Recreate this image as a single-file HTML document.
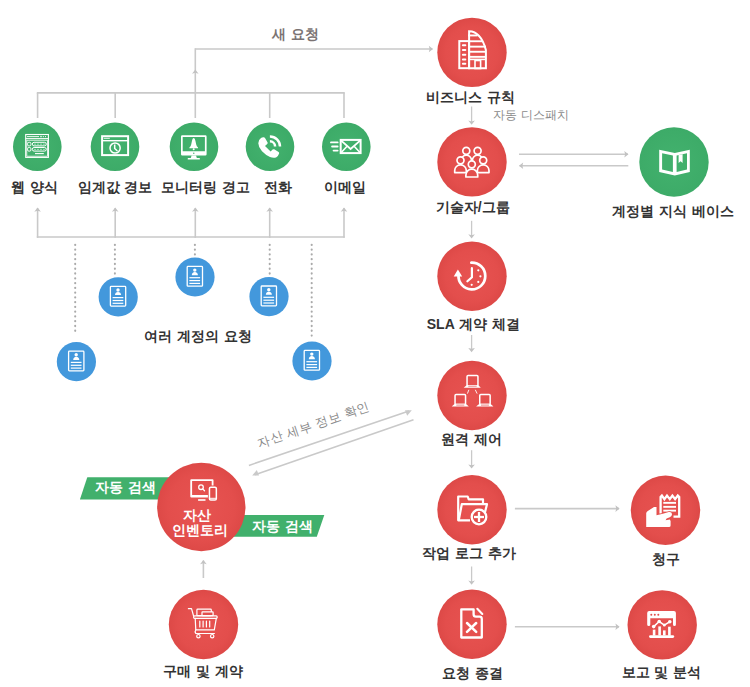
<!DOCTYPE html>
<html><head><meta charset="utf-8"><style>
html,body{margin:0;padding:0;background:#fff;}
body{width:750px;height:687px;position:relative;overflow:hidden;font-family:"Liberation Sans",sans-serif;}
svg{position:absolute;left:0;top:0;}
.t{position:absolute;width:300px;text-align:center;white-space:nowrap;line-height:1.2;word-spacing:1px;}
</style></head><body>
<svg width="750" height="687" viewBox="0 0 750 687">
<defs><radialGradient id="rg" cx="50%" cy="50%" r="50%"><stop offset="0" stop-color="#e75351"/><stop offset="0.75" stop-color="#e34e4c"/><stop offset="1" stop-color="#dd4947"/></radialGradient><radialGradient id="gg" cx="50%" cy="50%" r="50%"><stop offset="0" stop-color="#43b26e"/><stop offset="1" stop-color="#3dab68"/></radialGradient></defs>
<line x1="195.3" y1="49" x2="432.4" y2="49" stroke="#c9c9c9" stroke-width="1.6"/>
<polygon points="433,49 428.8,45.7 429.64,49 428.8,52.3" fill="#c2c2c2"/>
<line x1="195.3" y1="48.2" x2="195.3" y2="93.5" stroke="#c9c9c9" stroke-width="1.6"/>
<polygon points="195.3,69.5 192.0,73.7 195.3,72.86 198.60000000000002,73.7" fill="#c2c2c2"/>
<line x1="36.8" y1="92.9" x2="344.8" y2="92.9" stroke="#c9c9c9" stroke-width="1.6"/>
<line x1="37.6" y1="92.9" x2="37.6" y2="118" stroke="#c9c9c9" stroke-width="1.6"/>
<line x1="115.2" y1="92.9" x2="115.2" y2="118" stroke="#c9c9c9" stroke-width="1.6"/>
<line x1="195.3" y1="92.9" x2="195.3" y2="118" stroke="#c9c9c9" stroke-width="1.6"/>
<line x1="269.7" y1="92.9" x2="269.7" y2="118" stroke="#c9c9c9" stroke-width="1.6"/>
<line x1="344" y1="92.9" x2="344" y2="118" stroke="#c9c9c9" stroke-width="1.6"/>
<line x1="36.8" y1="237" x2="344.8" y2="237" stroke="#c9c9c9" stroke-width="1.6"/>
<line x1="37.6" y1="208.2" x2="37.6" y2="237.8" stroke="#c9c9c9" stroke-width="1.6"/>
<polygon points="37.6,207.5 34.300000000000004,211.7 37.6,210.86 40.9,211.7" fill="#c2c2c2"/>
<line x1="115.2" y1="208.2" x2="115.2" y2="237.8" stroke="#c9c9c9" stroke-width="1.6"/>
<polygon points="115.2,207.5 111.9,211.7 115.2,210.86 118.5,211.7" fill="#c2c2c2"/>
<line x1="195.3" y1="208.2" x2="195.3" y2="237.8" stroke="#c9c9c9" stroke-width="1.6"/>
<polygon points="195.3,207.5 192.0,211.7 195.3,210.86 198.60000000000002,211.7" fill="#c2c2c2"/>
<line x1="269.7" y1="208.2" x2="269.7" y2="237.8" stroke="#c9c9c9" stroke-width="1.6"/>
<polygon points="269.7,207.5 266.4,211.7 269.7,210.86 273.0,211.7" fill="#c2c2c2"/>
<line x1="344" y1="208.2" x2="344" y2="237.8" stroke="#c9c9c9" stroke-width="1.6"/>
<polygon points="344,207.5 340.7,211.7 344,210.86 347.3,211.7" fill="#c2c2c2"/>
<line x1="75.2" y1="244.8" x2="75.2" y2="335" stroke="#aaaaaa" stroke-width="2.1" stroke-linecap="round" stroke-dasharray="0.2 4.57"/>
<line x1="114.9" y1="244.8" x2="114.9" y2="274" stroke="#aaaaaa" stroke-width="2.1" stroke-linecap="round" stroke-dasharray="0.2 4.57"/>
<line x1="194.9" y1="244.8" x2="194.9" y2="255" stroke="#aaaaaa" stroke-width="2.1" stroke-linecap="round" stroke-dasharray="0.2 4.57"/>
<line x1="269.7" y1="244.8" x2="269.7" y2="274.4" stroke="#aaaaaa" stroke-width="2.1" stroke-linecap="round" stroke-dasharray="0.2 4.57"/>
<line x1="311.7" y1="244.8" x2="311.7" y2="335.6" stroke="#aaaaaa" stroke-width="2.1" stroke-linecap="round" stroke-dasharray="0.2 4.57"/>
<circle cx="37.3" cy="146.7" r="24.3" fill="url(#gg)"/>
<circle cx="115" cy="146.7" r="24.3" fill="url(#gg)"/>
<circle cx="194" cy="146.7" r="24.3" fill="url(#gg)"/>
<circle cx="270" cy="146.7" r="24.3" fill="url(#gg)"/>
<circle cx="346.3" cy="146.7" r="24.3" fill="url(#gg)"/>
<circle cx="76.4" cy="361.7" r="19.6" fill="#4398dc"/>
<circle cx="118.2" cy="296.9" r="19.6" fill="#4398dc"/>
<circle cx="195" cy="277" r="19.6" fill="#4398dc"/>
<circle cx="269" cy="296.6" r="19.6" fill="#4398dc"/>
<circle cx="312" cy="361" r="19.6" fill="#4398dc"/>
<circle cx="472" cy="52.4" r="34.7" fill="url(#rg)"/>
<circle cx="472" cy="161.9" r="34.7" fill="url(#rg)"/>
<circle cx="472" cy="276.2" r="34.7" fill="url(#rg)"/>
<circle cx="472" cy="395.5" r="34.7" fill="url(#rg)"/>
<circle cx="472" cy="509.7" r="34.7" fill="url(#rg)"/>
<circle cx="472" cy="624.2" r="34.7" fill="url(#rg)"/>
<circle cx="665.5" cy="510.3" r="34.7" fill="url(#rg)"/>
<circle cx="662.2" cy="624.9" r="34.7" fill="url(#rg)"/>
<circle cx="203.5" cy="624.5" r="34.7" fill="url(#rg)"/>
<circle cx="674" cy="162" r="34.7" fill="url(#gg)"/>
<line x1="471.6" y1="106.5" x2="471.6" y2="122.8" stroke="#c9c9c9" stroke-width="1.3"/>
<polygon points="471.6,124.8 468.3,120.6 471.6,121.44 474.90000000000003,120.6" fill="#c2c2c2"/>
<line x1="471.6" y1="220.8" x2="471.6" y2="236.5" stroke="#c9c9c9" stroke-width="1.3"/>
<polygon points="471.6,238.5 468.3,234.3 471.6,235.14 474.90000000000003,234.3" fill="#c2c2c2"/>
<line x1="471.6" y1="335" x2="471.6" y2="350.2" stroke="#c9c9c9" stroke-width="1.3"/>
<polygon points="471.6,352.2 468.3,348.0 471.6,348.84 474.90000000000003,348.0" fill="#c2c2c2"/>
<line x1="471.6" y1="450.2" x2="471.6" y2="466.6" stroke="#c9c9c9" stroke-width="1.3"/>
<polygon points="471.6,468.6 468.3,464.40000000000003 471.6,465.24 474.90000000000003,464.40000000000003" fill="#c2c2c2"/>
<line x1="471.6" y1="566.5" x2="471.6" y2="582.8" stroke="#c9c9c9" stroke-width="1.3"/>
<polygon points="471.6,584.8 468.3,580.5999999999999 471.6,581.4399999999999 474.90000000000003,580.5999999999999" fill="#c2c2c2"/>
<line x1="519" y1="154.3" x2="628" y2="154.3" stroke="#c9c9c9" stroke-width="1.6"/>
<polygon points="628.5,154.3 624.3,151.0 625.14,154.3 624.3,157.60000000000002" fill="#c2c2c2"/>
<line x1="519.5" y1="165.7" x2="628.3" y2="165.7" stroke="#c9c9c9" stroke-width="1.6"/>
<polygon points="519,165.7 523.2,162.39999999999998 522.36,165.7 523.2,169.0" fill="#c2c2c2"/>
<line x1="514.9" y1="508.6" x2="619" y2="508.6" stroke="#c9c9c9" stroke-width="1.6"/>
<polygon points="619.6,508.6 615.4,505.3 616.24,508.6 615.4,511.90000000000003" fill="#c2c2c2"/>
<line x1="514.9" y1="626.8" x2="619" y2="626.8" stroke="#c9c9c9" stroke-width="1.6"/>
<polygon points="619.6,626.8 615.4,623.5 616.24,626.8 615.4,630.0999999999999" fill="#c2c2c2"/>
<line x1="203.4" y1="560.6" x2="203.4" y2="578" stroke="#c9c9c9" stroke-width="1.6"/>
<polygon points="203.4,560 200.1,564.2 203.4,563.36 206.70000000000002,564.2" fill="#c2c2c2"/>
<polygon points="87.3,477.2 200,477.2 200,499.5 79.9,499.5" fill="#41b06c"/>
<polygon points="210,514.9 324.3,514.9 316.8,536.8 210,536.8" fill="#41b06c"/>
<circle cx="201.3" cy="507" r="44.2" fill="url(#rg)"/>
<line x1="248.9" y1="465.4" x2="409" y2="411.1" stroke="#c9c9c9" stroke-width="1.6"/>
<polygon points="411.8,410.2 405,410.3 407.2,415.8" fill="#c9c9c9"/>
<line x1="413.5" y1="419.8" x2="255" y2="474.7" stroke="#c9c9c9" stroke-width="1.6"/>
<polygon points="252.2,475.6 259,475.6 256.8,470" fill="#c9c9c9"/>
<g fill="none" stroke="#fff">
<rect x="25.7" y="134.5" width="22.7" height="22.9" stroke-width="1.1"/>
<line x1="25.7" y1="138.6" x2="48.4" y2="138.6" stroke-width="1"/>
<line x1="27" y1="136.6" x2="39" y2="136.6" stroke-width="0.9"/>
<rect x="26.8" y="140.2" width="20.6" height="16" stroke-width="0.8"/>
<rect x="27.6" y="142.3" width="3.3" height="3.6" rx="1.2" stroke-width="1"/>
<rect x="32.3" y="142.3" width="14" height="3.6" rx="1.8" stroke-width="1"/>
<rect x="27.6" y="147.5" width="3.3" height="3.6" rx="1.2" stroke-width="1"/>
<rect x="32.3" y="147.5" width="14" height="3.6" rx="1.8" stroke-width="1"/>
<line x1="35" y1="153.6" x2="43.8" y2="153.6" stroke-width="1.1"/>
</g>
<g fill="#fff"><circle cx="41" cy="136.6" r="0.8"/><circle cx="43.3" cy="136.6" r="0.6"/><circle cx="45.5" cy="136.6" r="0.6"/>
<circle cx="35" cy="144.1" r="0.6"/><circle cx="38" cy="144.1" r="0.6"/><circle cx="41" cy="144.1" r="0.6"/><circle cx="44" cy="144.1" r="0.6"/>
<circle cx="35" cy="149.3" r="0.6"/><circle cx="38" cy="149.3" r="0.6"/><circle cx="41" cy="149.3" r="0.6"/><circle cx="44" cy="149.3" r="0.6"/></g>
<g fill="none" stroke="#fff">
<rect x="102.1" y="136.2" width="26" height="18.9" stroke-width="2"/>
<line x1="102.1" y1="140.7" x2="128.1" y2="140.7" stroke-width="1.4"/>
<line x1="103.7" y1="138.3" x2="109.8" y2="138.3" stroke-width="0.9"/>
<circle cx="115.1" cy="148" r="5.1" stroke-width="1.5"/>
<polyline points="114.7,144.6 114.7,148.5 117.4,151" stroke-width="1.5"/>
</g>
<g fill="#fff">
<path fill-rule="evenodd" d="M181,136.4 Q181,135.2 182.2,135.2 L205.4,135.2 Q206.6,135.2 206.6,136.4 L206.6,154.3 Q206.6,155.5 205.4,155.5 L182.2,155.5 Q181,155.5 181,154.3 Z M182.7,136.9 L204.9,136.9 L204.9,151.2 L182.7,151.2 Z"/>
<circle cx="193.8" cy="153.3" r="0.7" fill="#41b06c"/>
<path d="M191.6,155.4 L196,155.4 L196.8,158 L190.8,158 Z"/>
<rect x="187.7" y="157.9" width="12.2" height="1.5" rx="0.5"/>
<path d="M193.7,137.9 Q195,138 195.4,140.8 L196.2,144.6 Q196.6,146.4 198,147.6 L198,148.3 L189.4,148.3 L189.4,147.6 Q190.8,146.4 191.2,144.6 L192,140.8 Q192.4,138 193.7,137.9 Z"/>
<circle cx="193.7" cy="149.2" r="1"/>
</g>
<g fill="#fff">
<path d="M263.4,137.2 Q264.4,137 265,138 L267.6,142.6 Q268,143.4 267.2,144.1 L265,146 L270.6,151.6 L272.6,149.6 Q273.3,148.9 274.2,149.3 L278.6,152 Q279.4,152.6 279.1,153.6 Q278.2,156.4 276.4,157.2 Q273.5,158.4 270,156.9 Q265.6,155 262,151.2 Q258.4,147.2 258.3,143.2 Q258.3,139.8 261,138 Q262,137.4 263.4,137.2 Z"/>
</g>
<g fill="none" stroke="#fff" stroke-width="2.5">
<path d="M269.9,136.5 A10,10 0 0 1 280,146.4"/>
<path d="M269.9,141.3 A5.2,5.2 0 0 1 275.1,146.4"/>
</g>
<g fill="none" stroke="#fff" stroke-linecap="round">
<rect x="340.7" y="139.9" width="19.9" height="13.2" stroke-width="2" stroke-linecap="butt"/>
<polyline points="341.5,140.8 350.6,149 359.8,140.8" stroke-width="1.8"/>
<line x1="341.5" y1="152.3" x2="346.6" y2="146.8" stroke-width="1.6"/>
<line x1="359.8" y1="152.3" x2="354.6" y2="146.8" stroke-width="1.6"/>
<line x1="331" y1="142.4" x2="337.6" y2="142.4" stroke-width="1.9"/>
<line x1="332.1" y1="146.5" x2="337.6" y2="146.5" stroke-width="1.9"/>
<line x1="333.6" y1="150.6" x2="337.6" y2="150.6" stroke-width="1.9"/>
</g>
<g fill="none" stroke="#fff" stroke-width="2">
<rect x="459.3" y="41.1" width="9.8" height="27.1"/>
<path d="M469.1,68.2 L469.1,31.2 Q481,31.5 485.9,50 L485.9,68.2 Z"/>
<line x1="469" y1="59.4" x2="486" y2="59.4" stroke-width="1.6"/>
<rect x="475" y="60.5" width="5.6" height="8" stroke-width="1.6"/>
</g>
<g fill="#fff">
<rect x="468" y="34.5" width="9.5" height="1.9"/>
<rect x="468" y="40.3" width="14.5" height="1.9"/>
<rect x="468" y="45.7" width="18" height="1.9"/>
<rect x="468" y="50.8" width="18" height="1.9"/>
<rect x="468" y="55.9" width="18" height="1.9"/>
<rect x="461.9" y="44.2" width="4.4" height="2" rx="1"/>
<rect x="461.9" y="48.9" width="4.4" height="2" rx="1"/>
<rect x="461.9" y="53.7" width="4.4" height="2" rx="1"/>
<rect x="461.9" y="58.4" width="4.4" height="2" rx="1"/>
<rect x="461.9" y="62.8" width="4.4" height="2" rx="1"/>
</g>
<g><path d="M461.05,166 L461.05,160.45 A5.25,5.25 0 0 1 471.55,160.45 L471.55,166" fill="#e24e4c" stroke="#fff" stroke-width="1.7" stroke-linejoin="round"/><circle cx="466.3" cy="150.8" r="3.5" fill="#e24e4c" stroke="#fff" stroke-width="1.7"/><path d="M472.35,166 L472.35,160.45 A5.25,5.25 0 0 1 482.85,160.45 L482.85,166" fill="#e24e4c" stroke="#fff" stroke-width="1.7" stroke-linejoin="round"/><circle cx="477.6" cy="150.8" r="3.5" fill="#e24e4c" stroke="#fff" stroke-width="1.7"/><path d="M454.7,172.6 L454.7,170.60000000000002 A5.8,5.8 0 0 1 466.3,170.60000000000002 L466.3,172.6 Z" fill="#e24e4c" stroke="#fff" stroke-width="1.7" stroke-linejoin="round"/><circle cx="460.5" cy="160.3" r="3.5" fill="#e24e4c" stroke="#fff" stroke-width="1.7"/><path d="M477.4,172.6 L477.4,170.60000000000002 A5.8,5.8 0 0 1 489.0,170.60000000000002 L489.0,172.6 Z" fill="#e24e4c" stroke="#fff" stroke-width="1.7" stroke-linejoin="round"/><circle cx="483.2" cy="160.3" r="3.5" fill="#e24e4c" stroke="#fff" stroke-width="1.7"/><path d="M465.90000000000003,177 L465.90000000000003,175.1 A5.9,5.9 0 0 1 477.7,175.1 L477.7,177 Z" fill="#e24e4c" stroke="#fff" stroke-width="1.7" stroke-linejoin="round"/><circle cx="471.8" cy="164.3" r="3.5" fill="#e24e4c" stroke="#fff" stroke-width="1.7"/></g>
<g fill="none" stroke="#fff" stroke-linecap="round">
<path d="M471.3,262.6 A13.4,13.4 0 1 1 458.5,275" stroke-width="2.7"/>
<polyline points="471.9,268.2 471.9,277.2 467.4,281.3" stroke-width="2.2"/>
</g>
<g fill="#fff">
<polygon points="457.9,269.6 453.7,276.6 462.2,276.6"/>
<circle cx="478.3" cy="270.3" r="1.1"/><circle cx="480.4" cy="276.3" r="1.1"/><circle cx="478.3" cy="281.9" r="1.1"/><circle cx="471.7" cy="284.8" r="1.1"/>
</g>
<g><rect x="467.05" y="375.45" width="10.899999999999977" height="10.199999999999989" rx="1" fill="none" stroke="#fff" stroke-width="1.5"/><path d="M466.8,384.9 L478.2,384.9 L480.8,387.8 L463.7,387.8 Z" fill="#fff"/><line x1="468.3" y1="386.2" x2="476.7" y2="386.2" stroke="#e24e4c" stroke-width="0.7"/><rect x="455.05" y="394.45" width="10.5" height="10.100000000000023" rx="1" fill="none" stroke="#fff" stroke-width="1.5"/><path d="M454.8,403.8 L465.8,403.8 L468.8,406.6 L451.7,406.6 Z" fill="#fff"/><line x1="456.3" y1="405.1" x2="464.3" y2="405.1" stroke="#e24e4c" stroke-width="0.7"/><rect x="479.75" y="394.45" width="10.399999999999977" height="10.100000000000023" rx="1" fill="none" stroke="#fff" stroke-width="1.5"/><path d="M479.5,403.8 L490.4,403.8 L493.4,406.6 L476.1,406.6 Z" fill="#fff"/><line x1="481" y1="405.1" x2="488.9" y2="405.1" stroke="#e24e4c" stroke-width="0.7"/><line x1="468.9" y1="389.8" x2="467.4" y2="393.6" stroke="#fff" stroke-width="0.9"/><line x1="475.3" y1="389.8" x2="477.1" y2="393.6" stroke="#fff" stroke-width="0.9"/></g>
<g fill="none" stroke="#fff" stroke-width="2.2" stroke-linejoin="round">
<path d="M470,520.3 L458.2,520.3 L458.2,496.5 L467.7,496.5 L468.7,499.3 L483,499.3 L483,503.5"/>
<path d="M458.8,520 L461.8,504.2 L487,504.2 L484.8,513"/>
</g>
<circle cx="479" cy="517" r="7.3" fill="#e24e4c" stroke="#fff" stroke-width="2.3"/>
<g stroke="#fff" stroke-width="2.3"><line x1="474" y1="517" x2="484" y2="517"/><line x1="479" y1="512" x2="479" y2="522"/></g>
<g fill="none" stroke="#fff" stroke-width="2.3" stroke-linejoin="round">
<path d="M473.6,609.3 L461.3,609.3 L461.3,637.5 L481.8,637.5 L481.8,619 Q481.8,616.7 479.5,616.7 L476,616.7 Q473.6,616.7 473.6,614.3 Z"/>
</g>
<g stroke="#fff" stroke-width="2.1" stroke-linecap="round">
<line x1="477.3" y1="608.8" x2="482.3" y2="614"/>
<line x1="467" y1="623" x2="476.2" y2="631.8" stroke-width="2.5"/><line x1="476.2" y1="623" x2="467" y2="631.8" stroke-width="2.5"/>
</g>
<g fill="none" stroke="#fff" stroke-width="2.3" stroke-linejoin="miter">
<path d="M673.5,516.6 L679.2,516.6 L679.2,497 L677.8,495.6 L675.1,499.2 L672.4,495.6 L669.8,499.2 L667,495.6 L664.4,499.2 L661.9,495.6 L660.6,497 L660.6,513.5"/>
</g>
<g fill="#fff">
<rect x="663.3" y="501.9" width="12.7" height="1.9"/>
<rect x="663.3" y="505.9" width="12.7" height="1.9"/>
<rect x="663.3" y="509.7" width="12.7" height="1.9"/>
<path stroke="#e24e4c" stroke-width="1.3" paint-order="stroke" d="M646.2,513.3 Q646.4,511.8 647.8,511 L654,507 L656.5,507 L656.5,515.3 Q663,514 668.8,512 Q671.8,511.6 672,514 Q672.2,516.2 669.8,517.2 L666.6,518.5 L665.6,520.2 L669.8,519.4 L670.6,521 L670.6,525.5 Q670.6,527 669,527 L646.2,527 Z"/>
</g>
<g fill="#fff">
<path d="M647.2,612.9 Q647.2,610.9 649.2,610.9 L673.9,610.9 Q675.9,610.9 675.9,612.9 L675.9,624.4 Q675.9,625.9 674.45,625.9 Q673,625.9 673,624.4 L673,618.2 L650.3,618.2 L650.3,624.4 Q650.3,625.9 648.75,625.9 Q647.2,625.9 647.2,624.4 Z"/>
<circle cx="651.3" cy="614.7" r="1" fill="#e24e4c"/><circle cx="654.8" cy="614.7" r="1" fill="#e24e4c"/><circle cx="658.3" cy="614.7" r="1" fill="#e24e4c"/>
<rect x="649" y="635.2" width="25.2" height="2.8" rx="1.4"/>
<rect x="652.8" y="629.6" width="2.6" height="6"/>
<rect x="658.3" y="626.4" width="2.6" height="9"/>
<rect x="663" y="630.4" width="2.6" height="5"/>
<rect x="668.1" y="626.7" width="2.6" height="9"/>
</g>
<polyline points="653.7,626.6 659.2,621.5 664.3,625.1 669.8,621.8" fill="none" stroke="#e24e4c" stroke-width="3.4"/>
<g fill="#e24e4c"><circle cx="653.7" cy="626.6" r="2.7"/><circle cx="659.2" cy="621.5" r="2.7"/><circle cx="664.3" cy="625.1" r="2.4"/><circle cx="669.8" cy="621.8" r="2.7"/></g>
<polyline points="653.7,626.6 659.2,621.5 664.3,625.1 669.8,621.8" fill="none" stroke="#fff" stroke-width="1.6"/>
<g fill="#fff"><circle cx="653.7" cy="626.6" r="1.8"/><circle cx="659.2" cy="621.5" r="1.8"/><circle cx="664.3" cy="625.1" r="1.5"/><circle cx="669.8" cy="621.8" r="1.8"/></g>
<g fill="none" stroke="#fff" stroke-width="1.2" stroke-linejoin="round" stroke-linecap="round">
<rect x="196.9" y="609.2" width="14.4" height="6.5" rx="0.8"/>
<rect x="202" y="611.9" width="11.1" height="3.8" rx="0.5" fill="#e24e4c"/>
<polyline points="188.4,608.7 191.5,608.7 193.6,616"/>
<rect x="193.6" y="615.9" width="23.6" height="2.4" rx="1"/>
<polyline points="195.2,618.3 195.8,629.9 214.3,629.9 216.3,618.3"/>
<path d="M195.8,629.9 Q194.6,631.5 195.8,633.5 L214.4,633.5"/>
<circle cx="198.4" cy="636.2" r="1.7"/><circle cx="212.2" cy="636.2" r="1.7"/>
<line x1="199.8" y1="621" x2="199.8" y2="627"/><line x1="203.1" y1="621" x2="203.1" y2="627"/><line x1="206.4" y1="621" x2="206.4" y2="627"/><line x1="209.7" y1="621" x2="209.7" y2="627"/>
</g>
<g>
<path fill="#fff" fill-rule="evenodd" d="M190.3,480.2 Q190.3,479.2 191.3,479.2 L212.5,479.2 Q213.5,479.2 213.5,480.2 L213.5,496.6 Q213.5,497.6 212.5,497.6 L191.3,497.6 Q190.3,497.6 190.3,496.6 Z M192.1,481 L211.7,481 L211.7,494.9 L192.1,494.9 Z"/>
<rect x="198.1" y="499.2" width="7.4" height="1.6" fill="#fff"/>
<circle cx="201" cy="487.2" r="2.3" fill="none" stroke="#fff" stroke-width="1.3"/>
<line x1="202.7" y1="488.9" x2="204.5" y2="490.7" stroke="#fff" stroke-width="1.3" stroke-linecap="round"/>
<rect x="207.9" y="485.6" width="10" height="16" rx="2" fill="#e24e4c"/>
<rect x="209.45" y="487.15" width="6.9" height="12.9" rx="1.4" fill="none" stroke="#fff" stroke-width="1.5"/>
<line x1="209.5" y1="498.3" x2="216.3" y2="498.3" stroke="#fff" stroke-width="1"/>
</g>
<path d="M659.2,149.7 L674.8,152.9 L689.8,149.7 L689.8,171.9 L674.8,175.6 L659.2,171.9 Z" fill="#fff"/>
<path d="M662.1,153.2 L672.9,155.4 L672.9,172 L662.1,169.6 Z" fill="#41b06c"/>
<path d="M676.6,155.4 L687,153.2 L687,169.6 L676.6,172 Z" fill="#41b06c"/>
<path d="M678.6,155 L682.6,154.2 L682.6,162.9 L680.6,161.2 L678.6,162.9 Z" fill="#fff"/>
<g transform="translate(-118.60,84.70)">
<rect x="187.2" y="266.4" width="15.3" height="19.8" rx="0.8" fill="none" stroke="#fff" stroke-width="1.3"/>
<circle cx="194.8" cy="270.1" r="1.7" fill="#fff"/>
<path d="M191.8,275.2 Q192,272.3 194.8,272.1 Q197.7,272.3 197.9,275.2 Z" fill="#fff"/>
<g stroke="#fff" stroke-width="1.2"><line x1="189.4" y1="277.7" x2="200.1" y2="277.7"/><line x1="189.4" y1="280.6" x2="200.1" y2="280.6"/><line x1="189.4" y1="283.4" x2="200.1" y2="283.4"/></g>
</g>
<g transform="translate(-76.80,19.90)">
<rect x="187.2" y="266.4" width="15.3" height="19.8" rx="0.8" fill="none" stroke="#fff" stroke-width="1.3"/>
<circle cx="194.8" cy="270.1" r="1.7" fill="#fff"/>
<path d="M191.8,275.2 Q192,272.3 194.8,272.1 Q197.7,272.3 197.9,275.2 Z" fill="#fff"/>
<g stroke="#fff" stroke-width="1.2"><line x1="189.4" y1="277.7" x2="200.1" y2="277.7"/><line x1="189.4" y1="280.6" x2="200.1" y2="280.6"/><line x1="189.4" y1="283.4" x2="200.1" y2="283.4"/></g>
</g>
<g transform="translate(0.00,0.00)">
<rect x="187.2" y="266.4" width="15.3" height="19.8" rx="0.8" fill="none" stroke="#fff" stroke-width="1.3"/>
<circle cx="194.8" cy="270.1" r="1.7" fill="#fff"/>
<path d="M191.8,275.2 Q192,272.3 194.8,272.1 Q197.7,272.3 197.9,275.2 Z" fill="#fff"/>
<g stroke="#fff" stroke-width="1.2"><line x1="189.4" y1="277.7" x2="200.1" y2="277.7"/><line x1="189.4" y1="280.6" x2="200.1" y2="280.6"/><line x1="189.4" y1="283.4" x2="200.1" y2="283.4"/></g>
</g>
<g transform="translate(74.00,19.60)">
<rect x="187.2" y="266.4" width="15.3" height="19.8" rx="0.8" fill="none" stroke="#fff" stroke-width="1.3"/>
<circle cx="194.8" cy="270.1" r="1.7" fill="#fff"/>
<path d="M191.8,275.2 Q192,272.3 194.8,272.1 Q197.7,272.3 197.9,275.2 Z" fill="#fff"/>
<g stroke="#fff" stroke-width="1.2"><line x1="189.4" y1="277.7" x2="200.1" y2="277.7"/><line x1="189.4" y1="280.6" x2="200.1" y2="280.6"/><line x1="189.4" y1="283.4" x2="200.1" y2="283.4"/></g>
</g>
<g transform="translate(117.00,84.00)">
<rect x="187.2" y="266.4" width="15.3" height="19.8" rx="0.8" fill="none" stroke="#fff" stroke-width="1.3"/>
<circle cx="194.8" cy="270.1" r="1.7" fill="#fff"/>
<path d="M191.8,275.2 Q192,272.3 194.8,272.1 Q197.7,272.3 197.9,275.2 Z" fill="#fff"/>
<g stroke="#fff" stroke-width="1.2"><line x1="189.4" y1="277.7" x2="200.1" y2="277.7"/><line x1="189.4" y1="280.6" x2="200.1" y2="280.6"/><line x1="189.4" y1="283.4" x2="200.1" y2="283.4"/></g>
</g>
</svg>
<div class="t" style="left:145.3px;top:26px;font-size:14px;font-weight:bold;color:#7b7373;">새 요청</div>
<div class="t" style="left:-115.2px;top:179px;font-size:14px;font-weight:bold;color:#333;">웹 양식</div>
<div class="t" style="left:-35px;top:179px;font-size:14px;font-weight:bold;color:#333;">임계값 경보</div>
<div class="t" style="left:55.80000000000001px;top:179px;font-size:14px;font-weight:bold;color:#333;">모니터링 경고</div>
<div class="t" style="left:127.69999999999999px;top:179px;font-size:14px;font-weight:bold;color:#333;">전화</div>
<div class="t" style="left:194.8px;top:179px;font-size:14px;font-weight:bold;color:#333;">이메일</div>
<div class="t" style="left:320.3px;top:88.5px;font-size:14px;font-weight:bold;color:#333;">비즈니스 규칙</div>
<div class="t" style="left:322.8px;top:198.5px;font-size:14px;font-weight:bold;color:#333;">기술자/그룹</div>
<div class="t" style="left:523.3px;top:203px;font-size:14px;font-weight:bold;color:#333;">계정별 지식 베이스</div>
<div class="t" style="left:323.4px;top:315.5px;font-size:14px;font-weight:bold;color:#333;">SLA 계약 체결</div>
<div class="t" style="left:321.5px;top:431px;font-size:14px;font-weight:bold;color:#333;">원격 제어</div>
<div class="t" style="left:319px;top:544.5px;font-size:14px;font-weight:bold;color:#333;">작업 로그 추가</div>
<div class="t" style="left:322.5px;top:664.5px;font-size:14px;font-weight:bold;color:#333;">요청 종결</div>
<div class="t" style="left:516.3px;top:550.5px;font-size:14px;font-weight:bold;color:#333;">청구</div>
<div class="t" style="left:511.4px;top:663.5px;font-size:14px;font-weight:bold;color:#333;">보고 및 분석</div>
<div class="t" style="left:53.19999999999999px;top:663.2px;font-size:14px;font-weight:bold;color:#333;">구매 및 계약</div>
<div class="t" style="left:47.80000000000001px;top:327.5px;font-size:14px;font-weight:bold;color:#333;">여러 계정의 요청</div>
<div class="t" style="left:-24.5px;top:479px;font-size:14px;font-weight:bold;color:#fff;">자동 검색</div>
<div class="t" style="left:132.60000000000002px;top:517.5px;font-size:14px;font-weight:bold;color:#fff;">자동 검색</div>
<div class="t" style="left:47px;top:506.5px;font-size:14px;font-weight:bold;color:#fff;">자산</div>
<div class="t" style="left:50.30000000000001px;top:522.3px;font-size:14px;font-weight:bold;color:#fff;">인벤토리</div>
<div class="t" style="left:492.5px;top:108px;width:auto;text-align:left;font-size:12.3px;color:#8a8a8a">자동 디스패치</div>
<div class="t" style="left:254px;top:418px;width:120px;font-size:12.6px;color:#8a8a8a;transform:rotate(-18.7deg);transform-origin:50% 50%">자산 세부 정보 확인</div>
</body></html>
